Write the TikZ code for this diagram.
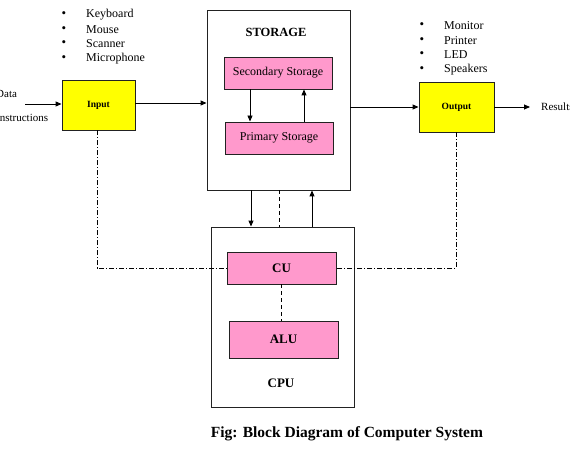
\documentclass[tikz,border=0pt]{standalone}
\usepackage{fontspec}
\setmainfont{Liberation Serif}
\usetikzlibrary{arrows.meta}
\definecolor{pinkfill}{HTML}{FF99CC}
\definecolor{yellowfill}{HTML}{FFFF00}
\definecolor{edge}{HTML}{222222}
\begin{document}
\begin{tikzpicture}[x=1pt,y=-1pt,
  box/.style={draw=edge,line width=0.9pt,inner sep=0pt},
  yellowbox/.style={box,fill=yellowfill,minimum width=73pt,minimum height=50pt,font=\fontsize{9.5}{10}\selectfont\bfseries},
  pinkbox/.style={box,fill=pinkfill,minimum width=108pt,minimum height=32pt},
  bigbox/.style={box,fill=white,minimum width=143pt,minimum height=180pt},
  arr/.style={-{Triangle[length=6pt,width=5pt]},line width=0.9pt},
  plain/.style={line width=0.9pt},
  dashedline/.style={line width=0.7pt,dash pattern=on 4pt off 3pt},
  dashdot/.style={line width=0.7pt,dash pattern=on 5pt off 2pt on 1pt off 2pt},
  item/.style={anchor=west,inner sep=0pt,font=\fontsize{12}{14}\selectfont},
  bul/.style={inner sep=0pt,font=\fontsize{13}{14}\selectfont},
  lbl/.style={inner sep=0pt,font=\fontsize{12.5}{14}\selectfont\bfseries}
]
\useasboundingbox (0,0) rectangle (570,449);
% boxes
\node[yellowbox] (input) at (98.5,105) {Input};
\node[yellowbox,minimum width=75pt] (output) at (456.5,107) {Output};
\node[bigbox] (storage) at (278.5,100) {};
\node[lbl] (storagelbl) at (276,32) {STORAGE};
\node[pinkbox,font=\fontsize{12}{14}\selectfont] (secondary) at (278,73) {Secondary Storage};
\node[pinkbox,font=\fontsize{12}{14}\selectfont] (primary) at (279,138) {Primary Storage};
\node[bigbox] (cpu) at (282.5,317) {};
\node[pinkbox,minimum width=109pt,font=\fontsize{13}{14}\selectfont\bfseries] (cu) at (281.5,268) {CU};
\node[pinkbox,minimum width=109pt,minimum height=37pt,font=\fontsize{13}{14}\selectfont\bfseries] (alu) at (283.5,339.5) {ALU};
\node[lbl,font=\fontsize{13}{14}\selectfont\bfseries] (cpulbl) at (281,383) {CPU};
% input list
\node[bul] (b1) at (64,15) {•};
\node[item] (t1) at (86,15) {Keyboard};
\node[bul] (b2) at (64,30) {•};
\node[item] (t2) at (86,30) {Mouse};
\node[bul] (b3) at (64,44) {•};
\node[item] (t3) at (86,44) {Scanner};
\node[bul] (b4) at (64,59) {•};
\node[item] (t4) at (86,59) {Microphone};
% output list
\node[bul] (c1) at (422,26) {•};
\node[item] (u1) at (444,26) {Monitor};
\node[bul] (c2) at (422,41) {•};
\node[item] (u2) at (444,41) {Printer};
\node[bul] (c3) at (422,55) {•};
\node[item] (u3) at (444,55) {LED};
\node[bul] (c4) at (422,70) {•};
\node[item] (u4) at (444,70) {Speakers};
% side texts
\node[item,font=\fontsize{11}{13}\selectfont] (data) at (-4,94) {Data};
\node[item,font=\fontsize{11}{13}\selectfont] (instr) at (-4,118) {Instructions};
\node[item,font=\fontsize{11}{13}\selectfont] (results) at (541,107) {Results};
\coordinate (dataS) at (25,104);
\coordinate (resE) at (530,107);
% caption
\node[inner sep=0pt,font=\fontsize{15.5}{18}\selectfont\bfseries] (caption) at (347,434) {Fig: Block Diagram of Computer System};
% connectors
\draw[arr] (dataS) -- (dataS -| input.west);
\draw[arr] ([yshift=2pt]input.east) -- ([yshift=2pt]input.east -| storage.west);
\draw[arr] (storage.east |- output.west) -- (output.west);
\draw[arr] (output.east) -- (resE);
\draw[arr] ([xshift=-28pt]secondary.south) -- ([xshift=-28pt]secondary.south |- primary.north);
\draw[arr] ([xshift=25pt]primary.north) -- ([xshift=25pt]primary.north |- secondary.south);
\draw[arr] ([xshift=-27.5pt]storage.south) -- ([xshift=-27.5pt]storage.south |- cpu.north);
\draw[dashedline] ([xshift=0.5pt]storage.south) -- ([xshift=0.5pt]storage.south |- cpu.north);
\draw[arr] ([xshift=29.5pt]cpu.north) -- ([xshift=29.5pt]cpu.north |- storage.south);
\draw[dashedline] (cu.south) -- (cu.south |- alu.north);
\draw[dashdot] ([xshift=-1.5pt]input.south) -- ([xshift=-1.5pt]input.south |- cu.west) -- (cu.west);
\draw[dashdot] (output.south) -- (output.south |- cu.east) -- (cu.east);
\end{tikzpicture}
\end{document}
